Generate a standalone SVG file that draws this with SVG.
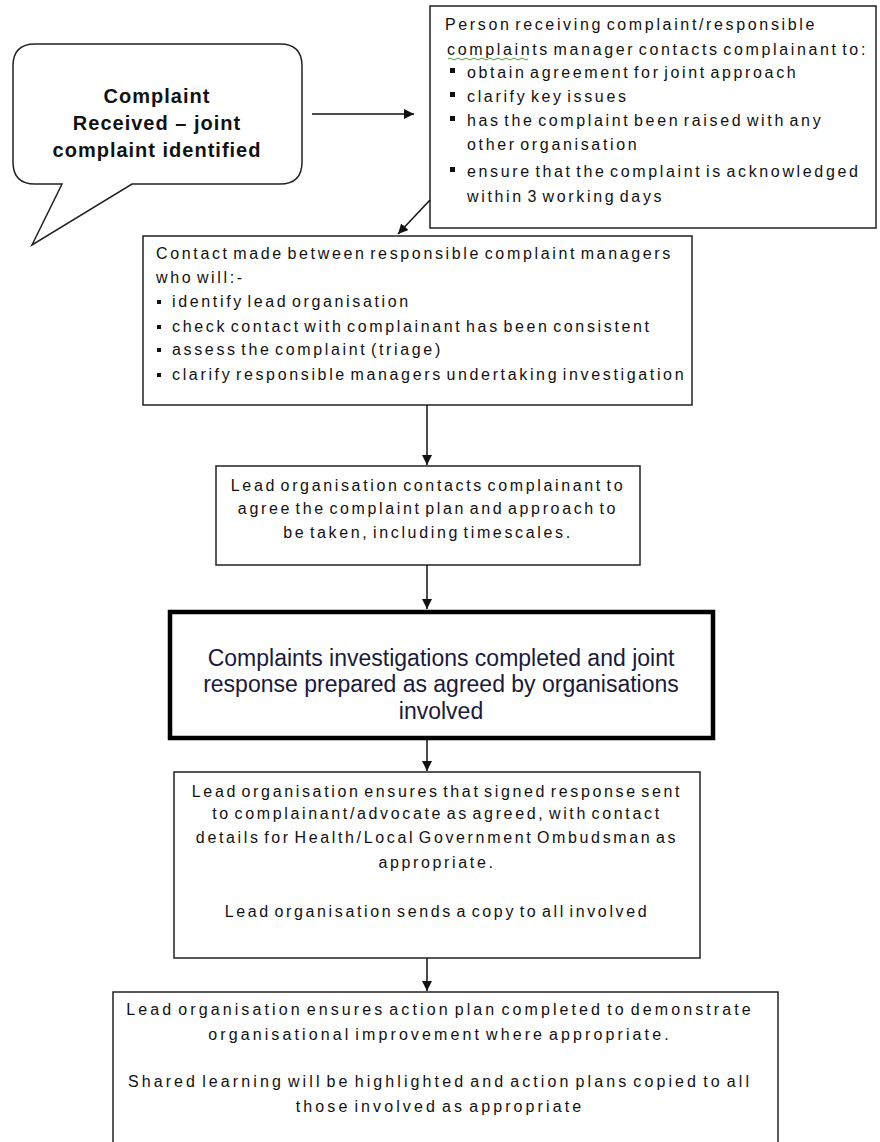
<svg xmlns="http://www.w3.org/2000/svg" width="880" height="1142" viewBox="0 0 880 1142">
<defs>
<marker id="ah" viewBox="0 0 10 10" refX="10" refY="5" markerWidth="10" markerHeight="10" markerUnits="userSpaceOnUse" orient="auto">
<path d="M0,0 L10,5 L0,10 z" fill="#111"/>
</marker>
<style>
.box{fill:#fff;stroke:#222;stroke-width:1.5}
.bold{fill:#fff;stroke:#000;stroke-width:4.5}
.t{font-family:"Liberation Sans",Arial,sans-serif;font-size:16px;letter-spacing:2.65px;word-spacing:-3.5px;fill:#111}
.w{letter-spacing:3.1px}
.c{text-anchor:middle}
.big{font-family:"Liberation Sans",Arial,sans-serif;font-size:23px;fill:#1a1a3a;text-anchor:middle}
.bub{font-family:"Liberation Sans",Arial,sans-serif;font-size:20px;font-weight:bold;letter-spacing:1px;fill:#111;text-anchor:middle}
.conn{stroke:#111;stroke-width:1.5;fill:none;marker-end:url(#ah)}
.bul{fill:#111}
</style>
</defs>
<rect width="880" height="1142" fill="#fff"/>

<g id="start">
<path class="box" d="M35,44 H280 Q302,44 302,66 V162 Q302,184 280,184 H132 L32,245 L62,184 H35 Q13,184 13,162 V66 Q13,44 35,44 Z"/>
<text class="bub" x="157" y="103">Complaint</text>
<text class="bub" x="157" y="130">Received – joint</text>
<text class="bub" x="157" y="157">complaint identified</text>
</g>

<g id="contact-complainant">
<rect class="box" x="430" y="6" width="446" height="222"/>
<text class="t" x="445" y="30">Person receiving complaint/responsible</text>
<text class="t" x="447" y="55">complaints manager contacts complainant to:</text>
<path d="M448,59 q2,-2 4,0 t4,0 t4,0 t4,0 t4,0 t4,0 t4,0 t4,0 t4,0 t4,0 t4,0 t4,0 t4,0 t4,0 t4,0 t4,0 t4,0 t4,0 t4,0 t4,0" fill="none" stroke="#4a9a3a" stroke-width="1"/>
<rect class="bul" x="450" y="68" width="5" height="5"/>
<text class="t" x="467" y="78">obtain agreement for joint approach</text>
<rect class="bul" x="450" y="92" width="5" height="5"/>
<text class="t" x="467" y="102">clarify key issues</text>
<rect class="bul" x="450" y="116" width="5" height="5"/>
<text class="t" x="467" y="126">has the complaint been raised with any</text>
<text class="t" x="467" y="150">other organisation</text>
<rect class="bul" x="450" y="167" width="5" height="5"/>
<text class="t" x="467" y="177">ensure that the complaint is acknowledged</text>
<text class="t" x="467" y="202">within 3 working days</text>
</g>

<g id="managers-contact">
<rect class="box" x="143" y="236" width="549" height="169"/>
<text class="t" x="156" y="259">Contact made between responsible complaint managers</text>
<text class="t" x="156" y="283">who will:-</text>
<rect class="bul" x="157" y="300" width="4" height="4"/>
<text class="t" x="172" y="307">identify lead organisation</text>
<rect class="bul" x="157" y="325" width="4" height="4"/>
<text class="t" x="172" y="332">check contact with complainant has been consistent</text>
<rect class="bul" x="157" y="348" width="4" height="4"/>
<text class="t" x="172" y="355">assess the complaint (triage)</text>
<rect class="bul" x="157" y="373" width="4" height="4"/>
<text class="t" x="172" y="380">clarify responsible managers undertaking investigation</text>
</g>

<g id="lead-contacts">
<rect class="box" x="216" y="466" width="424" height="99"/>
<text class="t c" x="428" y="491">Lead organisation contacts complainant to</text>
<text class="t c" x="428" y="514">agree the complaint plan and approach to</text>
<text class="t c" x="428" y="538">be taken, including timescales.</text>
</g>

<g id="investigations">
<rect class="bold" x="170" y="612" width="543" height="126"/>
<text class="big" x="441" y="666">Complaints investigations completed and joint</text>
<text class="big" x="441" y="692">response prepared as agreed by organisations</text>
<text class="big" x="441" y="719">involved</text>
</g>

<g id="response-sent">
<rect class="box" x="174" y="772" width="526" height="186"/>
<text class="t c" x="437" y="797">Lead organisation ensures that signed response sent</text>
<text class="t c" x="437" y="819">to complainant/advocate as agreed, with contact</text>
<text class="t c" x="437" y="843">details for Health/Local Government Ombudsman as</text>
<text class="t c" x="437" y="868">appropriate.</text>
<text class="t c" x="437" y="917">Lead organisation sends a copy to all involved</text>
</g>

<g id="action-plan">
<rect class="box" x="113" y="992" width="665" height="170"/>
<text class="t w c" x="440" y="1015">Lead organisation ensures action plan completed to demonstrate</text>
<text class="t w c" x="440" y="1040">organisational improvement where appropriate.</text>
<text class="t w c" x="440" y="1087">Shared learning will be highlighted and action plans copied to all</text>
<text class="t w c" x="440" y="1112">those involved as appropriate</text>
</g>

<g id="connectors">
<line class="conn" x1="312" y1="114" x2="414" y2="114"/>
<line class="conn" x1="430" y1="200" x2="398" y2="234"/>
<line class="conn" x1="427" y1="405" x2="427" y2="465"/>
<line class="conn" x1="427" y1="565" x2="427" y2="609"/>
<line class="conn" x1="427" y1="740" x2="427" y2="771"/>
<line class="conn" x1="427" y1="958" x2="427" y2="991"/>
</g>
</svg>
